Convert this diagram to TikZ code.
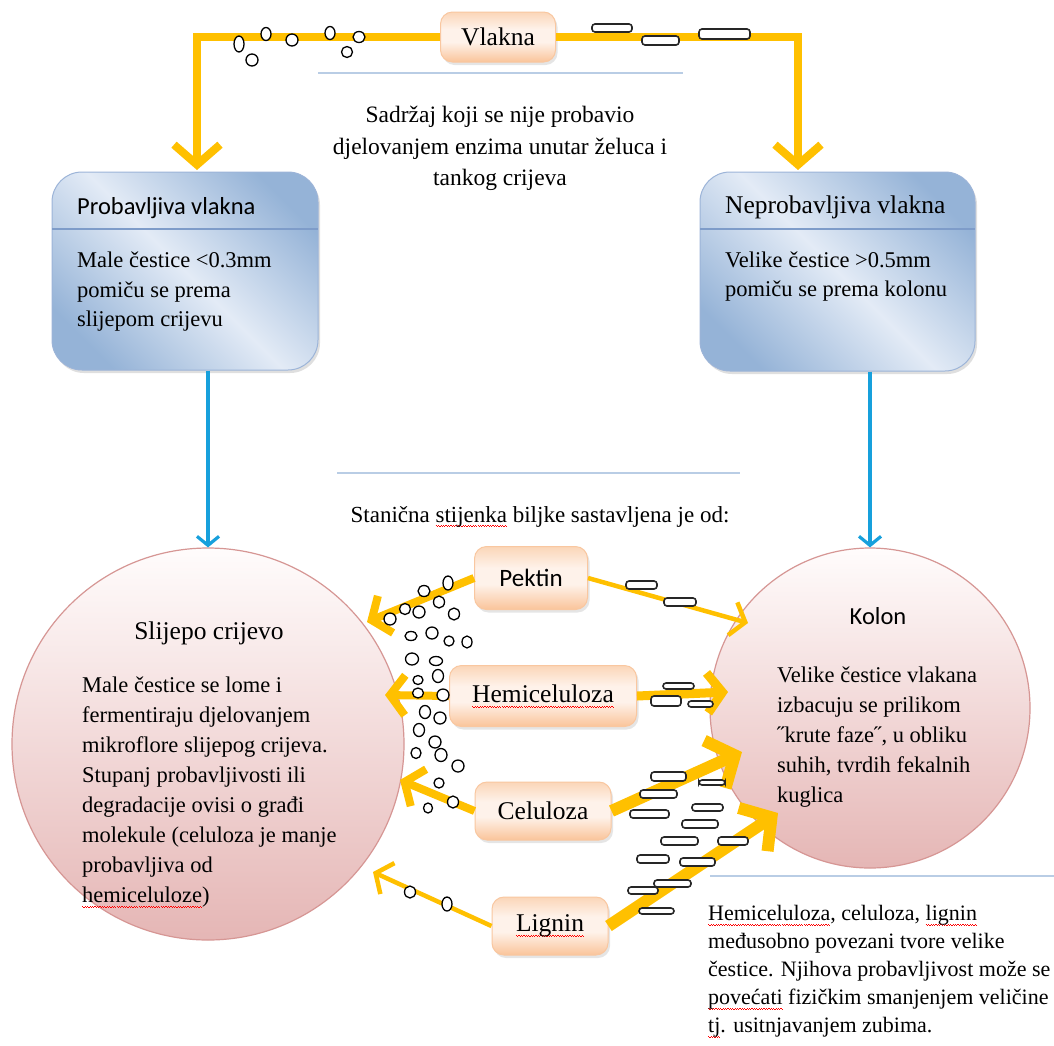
\documentclass[tikz,border=0pt]{standalone}
\usepackage{fontspec}
\setmainfont{Liberation Serif}
\newfontfamily\calib{Carlito}
\usetikzlibrary{arrows.meta,shadows,calc}
\definecolor{yel}{HTML}{FFC000}
\definecolor{cyanb}{HTML}{17A0DC}
\definecolor{bD}{HTML}{95B3D7}
\definecolor{bL}{HTML}{E3EBF6}
\definecolor{bB}{HTML}{9CB4D8}
\definecolor{hdrc}{HTML}{7E9CC9}
\definecolor{oD}{HTML}{FAC49A}
\definecolor{oL}{HTML}{FEF2EA}
\definecolor{oT}{HTML}{FBD6B8}
\definecolor{oB}{HTML}{F9C7A0}
\definecolor{cT}{HTML}{FFFCFC}
\definecolor{cB}{HTML}{E5B6B5}
\definecolor{cBd}{HTML}{D69694}
\definecolor{sepc}{HTML}{B9CDE5}
\pgfdeclarehorizontalshading{bluegrad}{100bp}{color(0bp)=(bD); color(24bp)=(bD); color(50bp)=(bL); color(76bp)=(bD); color(100bp)=(bD)}
\pgfdeclareverticalshading{orgrad}{100bp}{color(0bp)=(oD); color(25bp)=(oD); color(45bp)=(oL); color(58bp)=(oL); color(75bp)=(oT); color(100bp)=(oT)}
\newcommand\wvunit{\hbox{\rule[-4.2pt]{1.2pt}{0.8pt}\rule[-5.2pt]{1.2pt}{0.8pt}}}
\newcommand\sqw[1]{\setbox0=\hbox{#1}\leavevmode\rlap{\textcolor{red}{\hbox to \wd0{\xleaders\wvunit\hfil}}}\box0\relax}
\begin{document}
\begin{tikzpicture}[x=1pt,y=-1pt,
  body/.style={font=\fontsize{22.5}{30}\selectfont, inner sep=0pt, align=left},
  ttl/.style={font=\fontsize{25.5}{28}\selectfont, inner sep=0pt},
  cttl/.style={font=\calib\fontsize{24.5}{28}\selectfont, inner sep=0pt},
  bbox/.style={draw=bB, line width=1pt, rounded corners=30pt, shading=bluegrad, shading angle=45,
     drop shadow={opacity=0.25, shadow xshift=2pt, shadow yshift=-3pt}},
  obox/.style={draw=oB, line width=1pt, rounded corners=12pt, shading=orgrad,
     font=\fontsize{25.5}{28}\selectfont, inner sep=0pt,
     drop shadow={opacity=0.2, shadow xshift=2pt, shadow yshift=-3pt}},
  bigc/.style={circle, draw=cBd, line width=1.2pt, top color=cT, bottom color=cB, inner sep=0pt},
  sepl/.style={draw=sepc, line width=1.6pt},
  hdr/.style={draw=hdrc, line width=1.3pt},
  ytop/.style={draw=yel, line width=8pt, -{Straight Barb[length=20pt,width=46pt]}},
  yarr/.style={draw=yel, line width=8pt, -{Straight Barb[length=15pt,width=40pt]}},
  ythin/.style={draw=yel, line width=4.5pt, -{Straight Barb[length=13pt,width=34pt]}},
  yfat/.style={draw=yel, line width=12pt, -{Straight Barb[length=22pt,width=52pt]}},
  barr/.style={draw=cyanb, line width=3.2pt, -{Straight Barb[length=9pt,width=22pt]}},
  pcl/.style={draw=black, fill=white, line width=1.3pt},
  dsh/.style={draw=black!85, fill=white, line width=1.6pt, rounded corners=3pt}
]
\useasboundingbox (0,0) rectangle (1054,1045);
\fill[white] (0,0) rectangle (1054,1045);

% big circles
\node[bigc, minimum size=392pt] (sc) at (208,744) {};
\node[bigc, minimum size=320pt] (ko) at (870,708) {};

% blue boxes
\node[bbox, minimum width=266pt, minimum height=198pt] (pv) at (185,271) {};
\node[bbox, minimum width=275pt, minimum height=199pt] (nv) at (837.5,271.5) {};
\draw[hdr] (52,229) -- (318,229);
\draw[hdr] (700,229) -- (975,229);

% orange boxes
\node[obox, minimum width=115pt, minimum height=50pt] (vl) at (498,37) {Vlakna};
\node[obox, font=\calib\fontsize{25}{28}\selectfont, minimum width=113pt, minimum height=63pt] (pk) at (531,578) {Pektin};
\node[obox, minimum width=187pt, minimum height=61pt] (hc) at (543,696) {\sqw{Hemiceluloza}};
\node[obox, minimum width=136pt, minimum height=58pt] (ce) at (543,811) {Celuloza};
\node[obox, minimum width=116pt, minimum height=58pt] (lg) at (550,926) {\sqw{Lignin}};

% separators
\draw[sepl] (318,73) -- (683,73);
\draw[sepl] (337,473) -- (740,473);
\draw[sepl] (710,876) -- (1054,876);

% coordinates for arrow ends
\coordinate (tvl) at (197,170);
\coordinate (tvr) at (798,170);
\coordinate (tpkL) at (367,622);
\coordinate (tpkR) at (748,623);
\coordinate (thcL) at (385,695);
\coordinate (thcR) at (728,692);
\coordinate (tceL) at (400,780);
\coordinate (tceR) at (742,752);
\coordinate (tlgL) at (373,872);
\coordinate (tlgR) at (778,813);

% yellow connectors
\draw[ytop] (vl.west) -| (tvl);
\draw[ytop] (vl.east) -| (tvr);
\draw[yarr] (pk.west) -- (tpkL);
\draw[ythin] (pk.east) -- (tpkR);
\draw[yarr] (hc.west) -- (thcL);
\draw[yarr, line width=9pt] (hc.east) -- (thcR);
\draw[yarr] (ce.west) -- (tceL);
\draw[yfat] (ce.east) -- (tceR);
\draw[ythin] (lg.west) -- (tlgL);
\draw[yfat] (lg.east) -- (tlgR);

% blue connectors
\draw[barr] (pv.south -| sc.north) -- (sc.north);
\draw[barr] (nv.south -| ko.north) -- (ko.north);

% particles (small)
\foreach \x/\y/\a/\b in {239/44/5/8, 252/60/6/6, 266/34/5/6.5, 292/40/6/6, 330/33/5/6.5, 347/52/5.5/5.5, 359/37/6/5.5,
  448/583/5/7, 424/591/6/5.5, 439/602/5.5/6, 405/609/5.5/5.5, 419/612/6/6, 390/619/6/6, 454/614/5.5/6,
  411/636/6/4.5, 432/633/6/6, 449/641/5/5, 467/642/5/6, 412/659/6.5/6, 436/661/6.5/4.5, 438/676/5.5/6.5,
  418/680/5/4.5, 418/693/5.5/5, 443/695/6/6, 425/712/5.5/6.5, 440/718/6/6, 419/730/5.5/6.5, 435/742/6/6,
  416/753/5/5.5, 441/755/6/6.5, 458/766/6/6, 439/783/5/5, 453/802/5.5/6, 428/808/4.5/5,
  410/892/5.5/6, 447/904/5/7}
  \draw[pcl] (\x,\y) ellipse [x radius=\a, y radius=\b];

% particles (long)
\foreach \xa/\ya/\xb/\yb in {592/24/632/32, 642/36/679/45, 699/29/750/39,
  626/581/657/589, 664/598/696/606,
  663/683/694/689, 651/696/681/706, 688/701/713/707,
  651/772/686/781, 699/780/725/785, 640/790/677/798, 630/810/669/818, 692/804/723/811,
  682/820/718/828, 661/837/698/845, 718/837/748/845, 637/855/669/863, 680/858/715/866,
  654/880/691/887, 628/887/658/894, 639/908/674/914}
  \draw[dsh] (\xa,\ya) rectangle (\xb,\yb);

% texts
\node[body, align=center, anchor=north, font=\fontsize{23.5}{31.5}\selectfont] (sad) at (500,106)
  {Sadržaj koji se nije probavio\\ djelovanjem enzima unutar želuca i\\ tankog crijeva};
\node[cttl, anchor=base west] (pvh) at (77,214) {Probavljiva vlakna};
\node[body, anchor=north west, font=\fontsize{22.5}{29.5}\selectfont] (pvb) at (77,252)
  {Male čestice <0.3mm\\ pomiču se prema\\ slijepom crijevu};
\node[ttl, anchor=base west] (nvh) at (725,213) {Neprobavljiva vlakna};
\node[body, anchor=north west, font=\fontsize{22.5}{29}\selectfont] (nvb) at (725,252)
  {Velike čestice >0.5mm\\ pomiču se prema kolonu};
\node[body, anchor=base, font=\fontsize{23}{30}\selectfont] (stn) at (540,522) {Stanična \sqw{stijenka} biljke sastavljena je od:};
\node[ttl, anchor=base] (sct) at (209,639) {Slijepo crijevo};
\node[body, anchor=north west] (scb) at (82,677)
  {Male čestice se lome i\\ fermentiraju djelovanjem\\ mikroflore slijepog crijeva.\\ Stupanj probavljivosti ili\\ degradacije ovisi o građi\\ molekule (celuloza je manje\\ probavljiva od\\ \sqw{hemiceluloze})};
\node[cttl, anchor=base] (kot) at (878,624) {Kolon};
\node[body, anchor=north west] (kob) at (777,667)
  {Velike čestice vlakana\\ izbacuju se prilikom\\ ˝krute faze˝, u obliku\\ suhih, tvrdih fekalnih\\ kuglica};
\node[body, anchor=north west, font=\fontsize{22}{28}\selectfont] (brt) at (708,905)
  {\sqw{Hemiceluloza}, celuloza, \sqw{lignin}\\ međusobno povezani tvore velike\\ čestice. Njihova probavljivost može se\\ \sqw{povećati} fizičkim smanjenjem veličine\\ \sqw{tj}. usitnjavanjem zubima.};
\end{tikzpicture}
\end{document}
